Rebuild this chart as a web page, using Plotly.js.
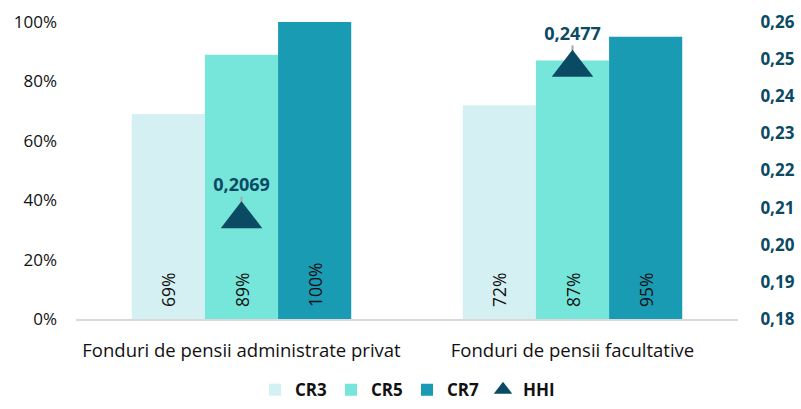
<!DOCTYPE html>
<html><head><meta charset="utf-8">
<script src="https://cdn.plot.ly/plotly-3.0.1.min.js"></script>
<style>html,body{margin:0;padding:0;background:#fff}</style>
</head><body><div id="chart" style="width:801px;height:409px"></div>
<script>
const categories = ["Fonduri de pensii administrate privat", "Fonduri de pensii facultative"];
const cr3 = [69, 72];
const cr5 = [89, 87];
const cr7 = [100, 95];
const hhi = [0.2069, 0.2477];
const leftTicks = [0, 20, 40, 60, 80, 100];
const rightTicks = [0.18, 0.19, 0.20, 0.21, 0.22, 0.23, 0.24, 0.25, 0.26];

const font = "'Open Sans', sans-serif";
function barTrace(name, vals, color) {
  return {
    type: 'bar', name: name, x: categories, y: vals,
    marker: {color: color},
    text: vals.map(v => '\u00a0\u00a0' + v + '%'), textposition: 'inside', insidetextanchor: 'start',
    textangle: -90, textfont: {family: font, size: 17.5, color: '#111'},
    hoverinfo: 'skip'
  };
}
const traces = [
  barTrace('CR3', cr3, '#d4f0f2'),
  barTrace('CR5', cr5, '#76e5da'),
  barTrace('CR7', cr7, '#1a9bb4'),
  {
    type: 'scatter', mode: 'markers+text', name: 'HHI', x: categories, y: hhi, yaxis: 'y2',
    marker: {symbol: 'triangle-up', size: 36, color: '#0b4a63'},
    error_y: {type: 'data', array: hhi.map(() => 0.006), arrayminus: hhi.map(() => 0), width: 0, thickness: 2, color: '#a6a6a6'},
    texttemplate: '%{y:.4f}', textposition: 'top center',
    textfont: {family: font, size: 18, color: '#0b4a63', weight: 'bold'},
    cliponaxis: false
  }
];
const layout = {
  width: 801, height: 409,
  margin: {l: 76, r: 63, t: 22, b: 90, autoexpand: false},
  paper_bgcolor: '#fff', plot_bgcolor: '#fff',
  separators: ', ',
  barmode: 'group', bargap: 0.337, bargroupgap: 0,
  showlegend: true,
  legend: {orientation: 'h', x: 0.5, xanchor: 'center', yref: 'container', y: 0.046, yanchor: 'middle',
    font: {family: font, size: 17, color: '#111', weight: 'bold'}, itemwidth: 30, tracegroupgap: 0,
    entrywidth: 31, entrywidthmode: 'pixels'},
  xaxis: {showline: true, linecolor: '#d9d9d9', linewidth: 2, ticks: '', showgrid: false, automargin: false,
    ticklabelstandoff: 14,
    tickfont: {family: font, size: 18.5, color: '#111'}, range: [-0.5, 1.5]},
  yaxis: {range: [0, 100], tickvals: leftTicks, ticktext: leftTicks.map(v => v + '%'), automargin: false,
    showgrid: false, zeroline: false, showline: false, ticks: '', ticklabelstandoff: 18,
    tickfont: {family: font, size: 17, color: '#111'}},
  yaxis2: {overlaying: 'y', side: 'right', range: [0.18, 0.26], tickvals: rightTicks, automargin: false,
    tickformat: '.2f', showgrid: false, zeroline: false, showline: false,
    ticks: 'outside', ticklen: 18, tickcolor: 'rgba(0,0,0,0)',
    tickfont: {family: font, size: 17, color: '#0b4a63', weight: 'bold'}}
};
Plotly.newPlot('chart', traces, layout, {displayModeBar: false, staticPlot: true});
</script></body></html>
